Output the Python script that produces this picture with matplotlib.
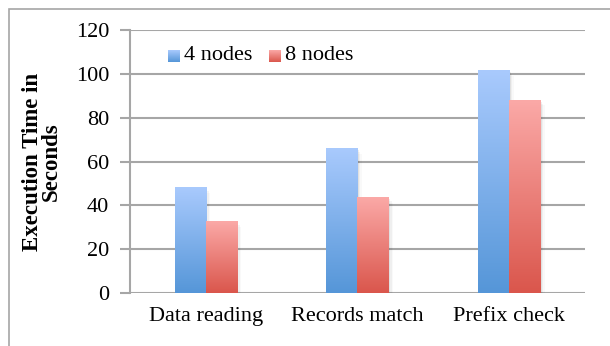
import numpy as np
import matplotlib.pyplot as plt
from matplotlib.patches import Rectangle
from matplotlib.colors import LinearSegmentedColormap

# Données
categories = ["Data reading", "Records match", "Prefix check"]
series_names = ["4 nodes", "8 nodes"]
nodes4 = [48, 66, 101.5]
nodes8 = [32.5, 43.5, 88]
yticks = [0, 20, 40, 60, 80, 100, 120]

plt.rcParams['font.family'] = ['Liberation Serif', 'DejaVu Serif']

fig = plt.figure(figsize=(6.1, 3.46), dpi=100)
ax = fig.add_axes([0.213, 0.153, 0.746, 0.760])

# Cadre extérieur (haut et gauche)
fig.patches.append(Rectangle((9 / 610, -0.1), 1.2, 1 - 9 / 346 + 0.1, transform=fig.transFigure,
                             fill=False, edgecolor='#a6a6a6', linewidth=1.2))

grad_blue = LinearSegmentedColormap.from_list('b', ['#5596d8', '#a9cafd'])
grad_red = LinearSegmentedColormap.from_list('r', ['#da564c', '#fba9a7'])
grad = np.linspace(0, 1, 256).reshape(-1, 1)

x = np.arange(len(categories))
w = 0.205

for vals, off, cmap, name in [(nodes4, -w / 2, grad_blue, series_names[0]),
                              (nodes8, w / 2, grad_red, series_names[1])]:
    bars = ax.bar(x + off, vals, w, color='none', edgecolor='none', label=name, zorder=3)
    for b in bars:
        x0, x1 = b.get_x(), b.get_x() + b.get_width()
        h = b.get_height()
        # ombre légère
        for k, a in enumerate([0.06, 0.04, 0.025]):
            ax.add_patch(Rectangle((x0 + 0.01 * (k + 1), -0.8 * (k + 1)), x1 - x0, h,
                                   facecolor='black', alpha=a, edgecolor='none', zorder=2))
        ax.imshow(grad, cmap=cmap, extent=[x0, x1, 0, h], origin='lower',
                  aspect='auto', zorder=3)

ax.set_xlim(-0.5, 2.5)
ax.set_ylim(0, 120)
ax.set_yticks(yticks)
ax.set_xticks(x)
ax.set_xticklabels(categories, fontsize=16)
ax.tick_params(axis='x', length=0, pad=10)
ax.tick_params(axis='y', length=7, width=1.5, color='#a6a6a6', labelsize=16, pad=8)
ax.yaxis.grid(True, color='#a6a6a6', linewidth=1.5, zorder=1)
ax.set_axisbelow(True)
for s in ['top', 'right', 'bottom']:
    ax.spines[s].set_visible(False)
ax.spines['left'].set_color('#a6a6a6')
ax.spines['left'].set_linewidth(1.5)

ax.set_ylabel("Execution Time in\nSeconds", fontsize=16.5, fontweight='bold', labelpad=10,
              linespacing=0.85)

# Légende avec carrés dégradés
for i, (name, cmap) in enumerate([(series_names[0], grad_blue), (series_names[1], grad_red)]):
    sq = fig.add_axes([(168 + 101 * i) / 610, 1 - 62 / 346, 12 / 610, 12 / 346])
    sq.imshow(grad, cmap=cmap, origin='lower', aspect='auto')
    sq.axis('off')
    fig.text((184 + 101 * i) / 610, 1 - 56 / 346, name, fontsize=16, va='center', ha='left')

fig.savefig('out.png', dpi=100)
